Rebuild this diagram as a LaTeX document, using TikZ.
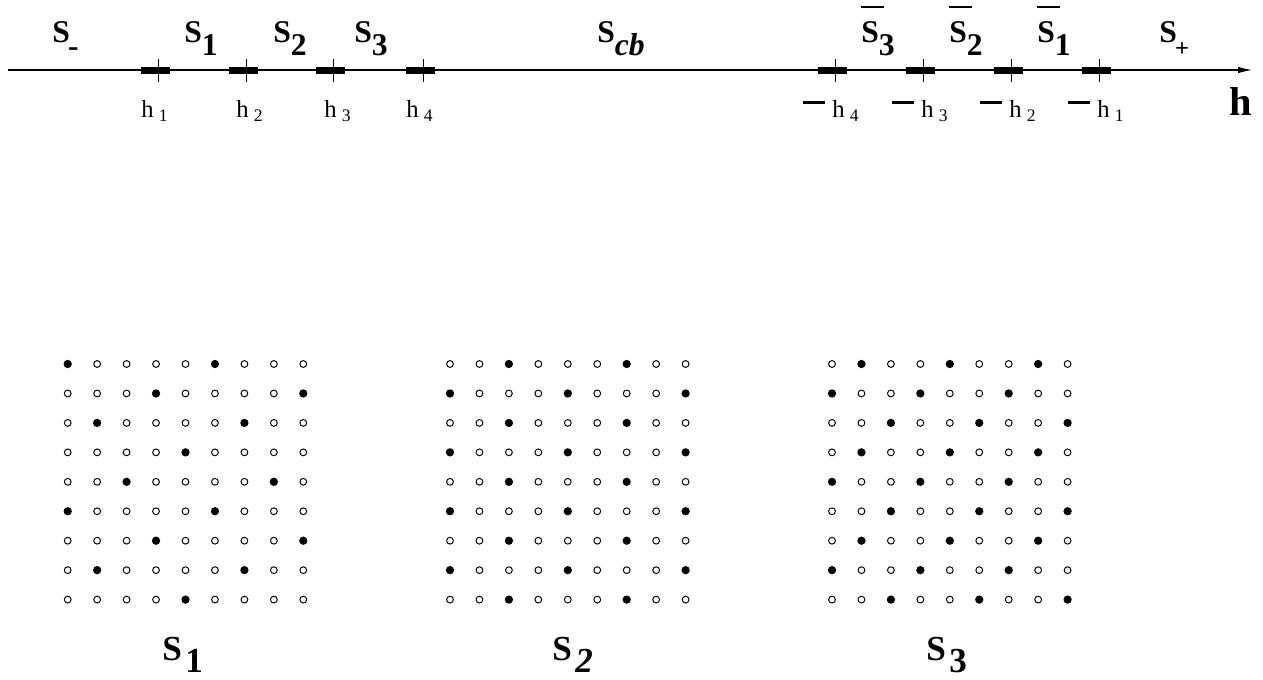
\documentclass[tikz,border=0pt]{standalone}
\usepackage{fontspec}
\setmainfont{Liberation Serif}
\usetikzlibrary{arrows.meta}

\newcommand{\Slab}[1]{S\raisebox{-7.4pt}{#1}}
\newcommand{\Sbar}[1]{\rlap{\rule[19.3pt]{13pt}{1.1pt}}\Slab{#1}}
\newcommand{\Blab}[1]{S\hspace{2pt}\raisebox{-7pt}{#1}}
\newcommand{\hlab}[1]{h\hspace{3pt}\raisebox{-2.8pt}{\fontsize{10}{10}\selectfont #1}}
\newcommand{\mhlab}[1]{\rule[7.5pt]{12.5pt}{1.7pt}\hspace{4pt}\hlab{#1}}

\begin{document}
\begin{tikzpicture}[x=0.2mm,y=-0.2mm,
        lab/.style={anchor=base west,inner sep=0pt,font=\fontsize{18}{18}\selectfont\bfseries},
        tlab/.style={anchor=base west,inner sep=0pt,font=\fontsize{14}{14}\selectfont},
        blab/.style={anchor=base west,inner sep=0pt,font=\fontsize{20}{20}\selectfont\bfseries},
        tickbar/.style={fill=black,inner sep=0pt,minimum width=5.8mm,minimum height=1.4mm},
        opendot/.style={line width=0.55pt},
        fulldot/.style={fill=black}]
            \useasboundingbox (0,0) rectangle (1263,679);

            \coordinate (start) at (8,70);
            \coordinate (end) at (1252,70);
            \draw[line width=0.6pt,-{Latex[length=2.8mm,width=1.3mm]}] (start) -- (end);

            \foreach \t [count=\i] in {158,246,333,423,835,923,1011,1099} {
                \node[tickbar] (bar\i) at (\t-2.5,70.5) {};
                \draw[line width=0.5pt] (\t,59) -- (\t,82);
            }

            \node[lab] (sminus) at (52,42) {S\hspace{-1pt}\raisebox{-8.3pt}{-}};
            \node[lab] (s1) at (184,42) {\Slab{1}};
            \node[lab] (s2) at (273,42) {\Slab{2}};
            \node[lab] (s3) at (354,42) {\Slab{3}};
            \node[lab] (scb) at (597,42) {\Slab{\itshape cb}};
            \node[lab] (sb3) at (861,42) {\Sbar{3}};
            \node[lab] (sb2) at (949,42) {\Sbar{2}};
            \node[lab] (sb1) at (1037,42) {\Sbar{1}};
            \node[lab] (splus) at (1159,42) {S\hspace{-1pt}\raisebox{-8.5pt}{\fontsize{14}{14}\selectfont +}};

            \node[tlab] (h1) at (141,117) {\hlab{1}};
            \node[tlab] (h2) at (236,117) {\hlab{2}};
            \node[tlab] (h3) at (324,117) {\hlab{3}};
            \node[tlab] (h4) at (406,117) {\hlab{4}};
            \node[tlab] (mh4) at (803,117) {\mhlab{4}};
            \node[tlab] (mh3) at (892,117) {\mhlab{3}};
            \node[tlab] (mh2) at (980,117) {\mhlab{2}};
            \node[tlab] (mh1) at (1068,117) {\mhlab{1}};
            \node[anchor=base west,inner sep=0pt,font=\fontsize{23}{23}\selectfont\bfseries] (haxis) at (1229,115) {h};

            \foreach \r in {0,...,8}
                \foreach \c in {0,...,8} {
                    \pgfmathtruncatemacro{\ona}{mod(\c+2*\r,5)==0}
                    \pgfmathtruncatemacro{\onb}{mod(\c+2*\r+2,4)==0}
                    \pgfmathtruncatemacro{\onc}{mod(\c+\r+2,3)==0}
                    \ifnum\ona=1 \fill[fulldot] (67.7+29.45*\c,364+29.45*\r) circle[radius=0.83mm];
                    \else \draw[opendot] (67.7+29.45*\c,364+29.45*\r) circle[radius=0.68mm]; \fi
                    \ifnum\onb=1 \fill[fulldot] (450+29.45*\c,364+29.45*\r) circle[radius=0.83mm];
                    \else \draw[opendot] (450+29.45*\c,364+29.45*\r) circle[radius=0.68mm]; \fi
                    \ifnum\onc=1 \fill[fulldot] (832+29.45*\c,364+29.45*\r) circle[radius=0.83mm];
                    \else \draw[opendot] (832+29.45*\c,364+29.45*\r) circle[radius=0.68mm]; \fi
                }

            \node[blab] (l1) at (162,660) {\Blab{1}};
            \node[blab] (l2) at (552,660) {\Blab{\itshape 2}};
            \node[blab] (l3) at (926,660) {\Blab{3}};
\end{tikzpicture}
\end{document}
